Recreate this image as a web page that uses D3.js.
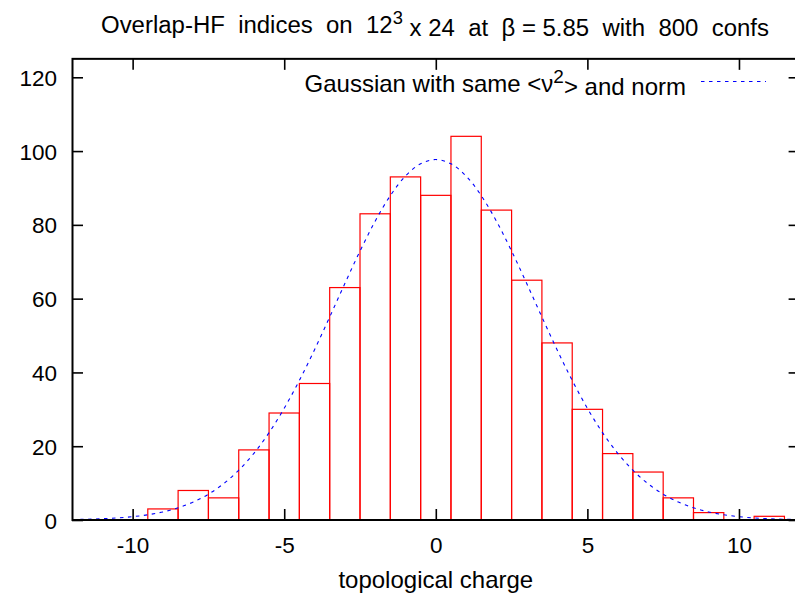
<!DOCTYPE html>
<html>
<head>
<meta charset="utf-8">
<script src="https://cdn.jsdelivr.net/npm/d3@7"></script>
<style>
  html, body { margin: 0; padding: 0; background: #fff; }
  svg { display: block; }
  text { font-family: "Liberation Sans", Arial, Helvetica, sans-serif; fill: #000; }
</style>
</head>
<body>
<svg id="chart" width="795" height="595"></svg>
<script>
// ---------- data ----------
const charges = [-9, -8, -7, -6, -5, -4, -3, -2, -1, 0, 1, 2, 3, 4, 5, 6, 7, 8, 9, 11];
const counts  = [ 3,  8,  6, 19, 29, 37, 63, 83, 93, 88, 104, 84, 65, 48, 30, 18, 13, 6, 2, 1];

const gaussX = [-12, -11.5, -11, -10.5, -10, -9.5, -9, -8.5, -8, -7.5, -7, -6.5, -6, -5.5, -5, -4.5, -4, -3.5, -3, -2.5, -2, -1.5, -1, -0.5,
                0, 0.5, 1, 1.5, 2, 2.5, 3, 3.5, 4, 4.5, 5, 5.5, 6, 6.5, 7, 7.5, 8, 8.5, 9, 9.5, 10, 10.5, 11, 11.5, 12];
const gaussY = [0.11, 0.20, 0.34, 0.56, 0.90, 1.42, 2.19, 3.31, 4.87, 7.00, 9.83, 13.49, 18.08, 23.67, 30.28, 37.83, 46.16, 55.03, 64.09, 72.90, 81.00, 87.92, 93.23, 96.56,
                97.7, 96.56, 93.23, 87.92, 81.00, 72.90, 64.09, 55.03, 46.16, 37.83, 30.28, 23.67, 18.08, 13.49, 9.83, 7.00, 4.87, 3.31, 2.19, 1.42, 0.90, 0.56, 0.34, 0.20, 0.11];

const xTicks = [-10, -5, 0, 5, 10];
const yTicks = [0, 20, 40, 60, 80, 100, 120];

const titleParts = ["Overlap-HF  indices  on  12", "3", " x 24  at  \u03B2 = 5.85  with  800  confs"];
const xLabel = "topological charge";
const legendParts = ["Gaussian with same <\u03BD", "2", "> and norm"];

// ---------- layout ----------
const svg = d3.select("#chart");
const L = 72, R = 799.6, T = 58.85, B = 520;

const x = d3.scaleLinear().domain([-12, 12]).range([L, R]);
const y = d3.scaleLinear().domain([0, 125]).range([B, T]);

// bars
svg.append("g").selectAll("rect")
  .data(charges.map((c, i) => ({c, n: counts[i]})))
  .join("rect")
  .attr("x", d => x(d.c - 0.5))
  .attr("y", d => y(d.n))
  .attr("width", d => x(d.c + 0.5) - x(d.c - 0.5))
  .attr("height", d => y(0) - y(d.n))
  .attr("fill", "none")
  .attr("stroke", "#ff0000")
  .attr("stroke-width", 1.2);

// gaussian curve
const line = d3.line().x(d => x(d[0])).y(d => y(d[1])).curve(d3.curveCatmullRom);
svg.append("path")
  .datum(gaussX.map((v, i) => [v, gaussY[i]]))
  .attr("d", line)
  .attr("fill", "none")
  .attr("stroke", "#0000ff")
  .attr("stroke-width", 1.1)
  .attr("stroke-dasharray", "3.5,4.5");

// axes (ticks inward, mirrored)
const tickLen = 11;
const fontTick = 22.5;
const fmt = d => String(d);

const gx = svg.append("g").attr("transform", `translate(0,${B})`)
  .call(d3.axisBottom(x).tickValues(xTicks).tickSize(-tickLen).tickPadding(0).tickFormat(fmt));
gx.selectAll("text").attr("y", 33).attr("dy", null).style("font-size", fontTick + "px");

const gxTop = svg.append("g").attr("transform", `translate(0,${T})`)
  .call(d3.axisTop(x).tickValues(xTicks).tickSize(-tickLen).tickFormat(""));

const gy = svg.append("g").attr("transform", `translate(${L},0)`)
  .call(d3.axisLeft(y).tickValues(yTicks).tickSize(-tickLen).tickPadding(0).tickFormat(fmt));
gy.selectAll("text").attr("x", -15).attr("dy", "0.36em").style("font-size", fontTick + "px");

const gyR = svg.append("g").attr("transform", `translate(${R},0)`)
  .call(d3.axisRight(y).tickValues(yTicks).tickSize(-tickLen).tickFormat(""));

[gx, gxTop, gy, gyR].forEach(g => {
  g.select(".domain").remove();
  g.selectAll(".tick line").attr("stroke", "#000").attr("stroke-width", 1.6);
  g.selectAll("text").attr("fill", "#000").style("font-family", "'Liberation Sans', Arial, sans-serif");
});

// frame
svg.append("rect")
  .attr("x", L + 0.5).attr("y", T)
  .attr("width", R - L).attr("height", B - T)
  .attr("fill", "none").attr("stroke", "#000").attr("stroke-width", 2);

// title
const title = svg.append("text")
  .attr("x", 101).attr("y", 33)
  .style("font-size", "23.5px")
  .style("white-space", "pre")
  .attr("textLength", 668)
  .attr("lengthAdjust", "spacingAndGlyphs");
title.append("tspan").text(titleParts[0]);
title.append("tspan").attr("dy", "-0.5em").style("font-size", "18px").text(titleParts[1]);
title.append("tspan").attr("dy", "0.5em").text(titleParts[2]);

// x label
svg.append("text")
  .attr("x", x(0)).attr("y", 588)
  .attr("text-anchor", "middle")
  .style("font-size", "24px")
  .text(xLabel);

// legend
const leg = svg.append("text")
  .attr("x", 686).attr("y", 92)
  .attr("text-anchor", "end")
  .style("font-size", "24px");
leg.append("tspan").text(legendParts[0]);
leg.append("tspan").attr("dy", "-0.5em").style("font-size", "19px").text(legendParts[1]);
leg.append("tspan").attr("dy", "0.5em").text(legendParts[2]);

svg.append("line")
  .attr("x1", 701).attr("x2", 766).attr("y1", 81.5).attr("y2", 81.5)
  .attr("stroke", "#0000ff").attr("stroke-width", 1.1)
  .attr("stroke-dasharray", "3.5,4.5");
</script>
</body>
</html>
